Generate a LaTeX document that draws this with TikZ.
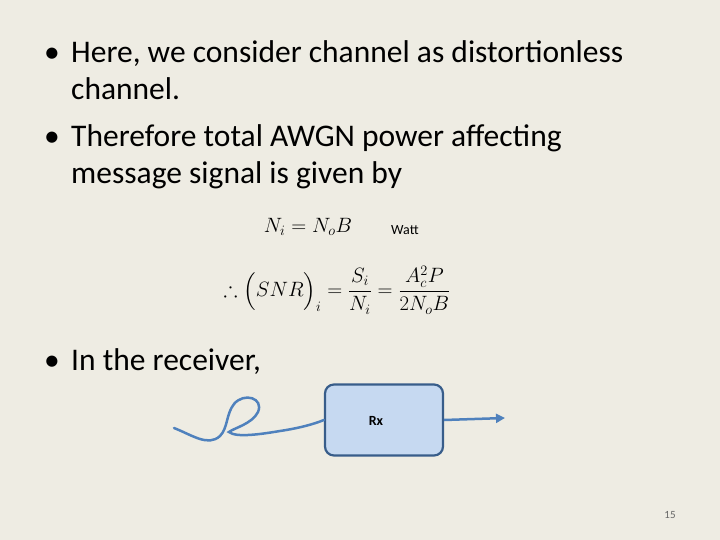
\documentclass[tikz,border=0pt]{standalone}
\usepackage{fontspec}
\setmainfont{Carlito}
\usepackage{amsmath,amssymb}
\usetikzlibrary{arrows.meta}
\definecolor{bg}{HTML}{EEECE3}
\definecolor{bl}{HTML}{4F81BD}
\definecolor{dbl}{HTML}{385D8A}
\definecolor{fillb}{HTML}{C6D9F1}
\begin{document}
\begin{tikzpicture}[x=1pt,y=-1pt,
  txt/.style={anchor=base west,inner sep=0,font=\fontsize{31.5}{36}\selectfont},
  eq/.style={anchor=center,inner sep=0,font=\fontsize{21}{25}\selectfont}]
\fill[bg] (0,0) rectangle (720,540);
\useasboundingbox (0,0) rectangle (720,540);
\node[txt] (b1) at (44,63) {•};
\node[txt] (l1) at (71,63) {Here, we consider channel as distortionless};
\node[txt] (l2) at (71,100) {channel.};
\node[txt] (b2) at (44,147) {•};
\node[txt] (l3) at (71,147) {Therefore total AWGN power affecting};
\node[txt] (l4) at (71,184) {message signal is given by};
\node[eq] (e1) at (308,227) {$N_i = N_oB$};
\node[anchor=base west,inner sep=0,font=\fontsize{14}{16}\selectfont] (w) at (391,235) {Watt};
\node[eq] (e2) at (337,290) {$\therefore \Big(SNR\Big)_i = \dfrac{S_i}{N_i} = \dfrac{A_c^2P}{2N_oB}$};
\node[txt] (b3) at (44,370) {•};
\node[txt] (l5) at (71,370) {In the receiver,};
\node[draw=dbl,line width=2.2pt,fill=fillb,rounded corners=9pt,minimum width=118,minimum height=71] (rx) at (384,420) {};
\node[inner sep=0,font=\bfseries\fontsize{14}{16}\selectfont] (rxl) at (376,421) {Rx};
\coordinate (out) at (505,418);
\draw[bl,line width=2.5pt,-{Triangle[length=9pt,width=9pt]}] (rx.east) -- (out);
\draw[bl,line width=2.5pt,line cap=round] (174,428) .. controls (192,435) and (208,447) .. (220,436)
  .. controls (228,428) and (226,414) .. (234,404) .. controls (244,392) and (264,398) .. (258,412)
  .. controls (252,424) and (234,428) .. (229,432) .. controls (236,438) and (262,434) .. (280,431)
  .. controls (300,428) and (314,424) .. (rx.west);
\node[anchor=center,inner sep=0,font=\fontsize{11}{13}\selectfont,text=gray!80!black] (pg) at (670,515) {15};
\end{tikzpicture}
\end{document}
